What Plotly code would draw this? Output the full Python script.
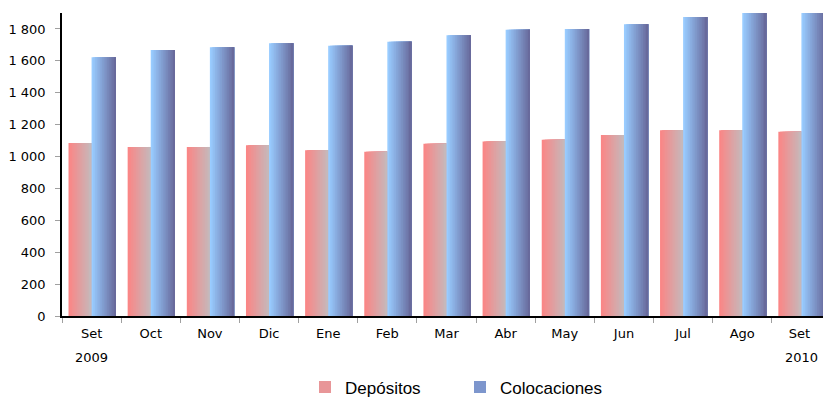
import plotly.graph_objects as go

meses = ["Set", "Oct", "Nov", "Dic", "Ene", "Feb", "Mar", "Abr", "May", "Jun", "Jul", "Ago", "Set "]
depositos = [1085, 1060, 1060, 1070, 1040, 1030, 1080, 1095, 1105, 1135, 1165, 1165, 1155]
colocaciones = [1622, 1668, 1685, 1710, 1695, 1720, 1760, 1795, 1800, 1830, 1875, 1905, 1920]
y_ticks = [0, 200, 400, 600, 800, 1000, 1200, 1400, 1600, 1800]
y_labels = ["0", "200", "400", "600", "800", "1 000", "1 200", "1 400", "1 600", "1 800"]
anios = [("Set", "2009"), ("Set ", "2010")]

N_STRIPS = 14


def mix(c1, c2, t):
    return "rgb(%d,%d,%d)" % tuple(round(a + (b - a) * t) for a, b in zip(c1, c2))


def gradient_bars(fig, name, values, start, width, c_left, c_right, legend_color):
    # fake a horizontal gradient: each strip runs to the right edge, later ones on top
    step = width / N_STRIPS
    for i in range(N_STRIPS):
        fig.add_trace(go.Bar(
            x=meses, y=values,
            offset=start + i * step, width=width - i * step,
            marker=dict(color=mix(c_left, c_right, i / (N_STRIPS - 1)), line_width=0),
            name=name, legendgroup=name, showlegend=False, hoverinfo="skip"))
    # legend proxy
    fig.add_trace(go.Bar(x=[meses[0]], y=[0], width=0, name=name, legendgroup=name,
                         marker=dict(color=legend_color, line_width=0), showlegend=True))


fig = go.Figure()
gradient_bars(fig, "Depósitos", depositos, -0.39, 0.39, (250, 134, 134), (198, 184, 186), "rgb(232,150,152)")
gradient_bars(fig, "Colocaciones", colocaciones, 0.0, 0.41, (153, 204, 255), (104, 106, 156), "rgb(125,150,205)")

for mes, anio in anios:
    fig.add_annotation(x=mes, y=-0.136, xref="x", yref="paper", text=anio, showarrow=False,
                       font=dict(size=13, color="black"), yanchor="middle")

# the page body adds an 8px offset, so margins are shifted to compensate
fig.update_layout(
    barmode="overlay",
    width=831, height=400,
    paper_bgcolor="white", plot_bgcolor="white",
    font=dict(family="DejaVu Sans, Liberation Sans, sans-serif", size=13, color="black"),
    margin=dict(l=54, r=8, t=5, b=92, autoexpand=False),
    legend=dict(orientation="h", x=0.316, xanchor="left", y=-0.236, yanchor="middle",
                font=dict(family="Liberation Sans, Arial, sans-serif", size=17),
                entrywidth=110, itemsizing="constant", bgcolor="rgba(0,0,0,0)"),
    xaxis=dict(showline=True, linecolor="black", linewidth=1.5, ticks="outside", tickson="boundaries",
               tickcolor="#a0a0a0", ticklen=5, showgrid=False, range=[-0.5, 12.5],
               ticklabelstandoff=5),
    yaxis=dict(range=[0, 1900], showline=True, linecolor="black", linewidth=1.5, showgrid=False,
               ticks="outside", tickcolor="#a0a0a0", ticklen=5, tickvals=y_ticks, ticktext=y_labels,
               zeroline=False, ticklabelstandoff=7),
)

fig.write_html("out.html")
